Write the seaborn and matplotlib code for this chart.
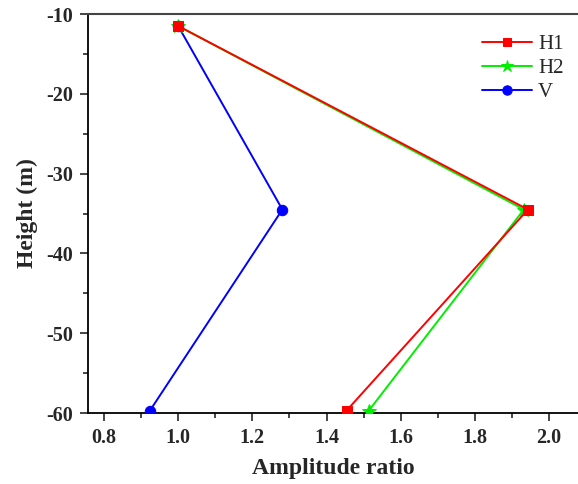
import matplotlib
matplotlib.use("Agg")
import matplotlib.pyplot as plt
import seaborn as sns
import pandas as pd
from matplotlib.ticker import MultipleLocator

heights = [-11.5, -34.5, -59.7]
h1 = [1.0, 1.943, 1.454]
h2 = [1.0, 1.932, 1.514]
v = [1.0, 1.281, 0.924]
series_names = ["H1", "H2", "V"]

sns.set_style("ticks")
plt.rcParams['font.family'] = ['Liberation Serif', 'DejaVu Serif']
plt.rcParams['axes.unicode_minus'] = False

fig = plt.figure(figsize=(5.78, 4.84), dpi=100)
ax = fig.add_axes([88/578, 1-413/484, 1-88/578, (413-14)/484])

styles = {"H1": ("#ff0000", "s", 7, 5), "H2": ("#00ee00", "*", 10, 4), "V": ("#0000ff", "o", 7.5, 3)}
for name, vals in zip(series_names, [h1, h2, v]):
    df = pd.DataFrame({"x": vals, "y": heights})
    c, m, ms, z = styles[name]
    sns.lineplot(data=df, x="x", y="y", sort=False, ax=ax, color=c, marker=m,
                 markersize=ms, markeredgecolor=c, linewidth=1.4, label=name,
                 estimator=None, zorder=z)

ax.set_xlim(0.757, 2.078)
ax.set_ylim(-60, -10)
ax.xaxis.set_major_locator(MultipleLocator(0.2))
ax.xaxis.set_minor_locator(MultipleLocator(0.1))
ax.yaxis.set_major_locator(MultipleLocator(10))
ax.yaxis.set_minor_locator(MultipleLocator(5))
ax.tick_params(which='major', direction='out', length=6, width=1.2, labelsize=14.5, pad=5)
ax.tick_params(which='minor', direction='out', length=3.5, width=1.2)
for lab in ax.get_xticklabels() + ax.get_yticklabels():
    lab.set_fontweight('bold')
ax.set_xlabel("Amplitude ratio", fontsize=17, fontweight='bold', labelpad=7)
ax.set_ylabel("Height (m)", fontsize=17, fontweight='bold', labelpad=6)
for s in ['left', 'bottom']:
    ax.spines[s].set_linewidth(1.3)
    ax.spines[s].set_color('black')
ax.spines['top'].set_color('#444444')
ax.spines['top'].set_linewidth(1.5)
ax.spines['right'].set_visible(False)

leg = ax.legend(loc='upper right', bbox_to_anchor=(1.0, 0.985), frameon=False,
                fontsize=15, handlelength=2.4, handletextpad=0.3, labelspacing=0.22,
                borderaxespad=0.3, markerscale=0.9)

fig.savefig("out.png", dpi=100)
